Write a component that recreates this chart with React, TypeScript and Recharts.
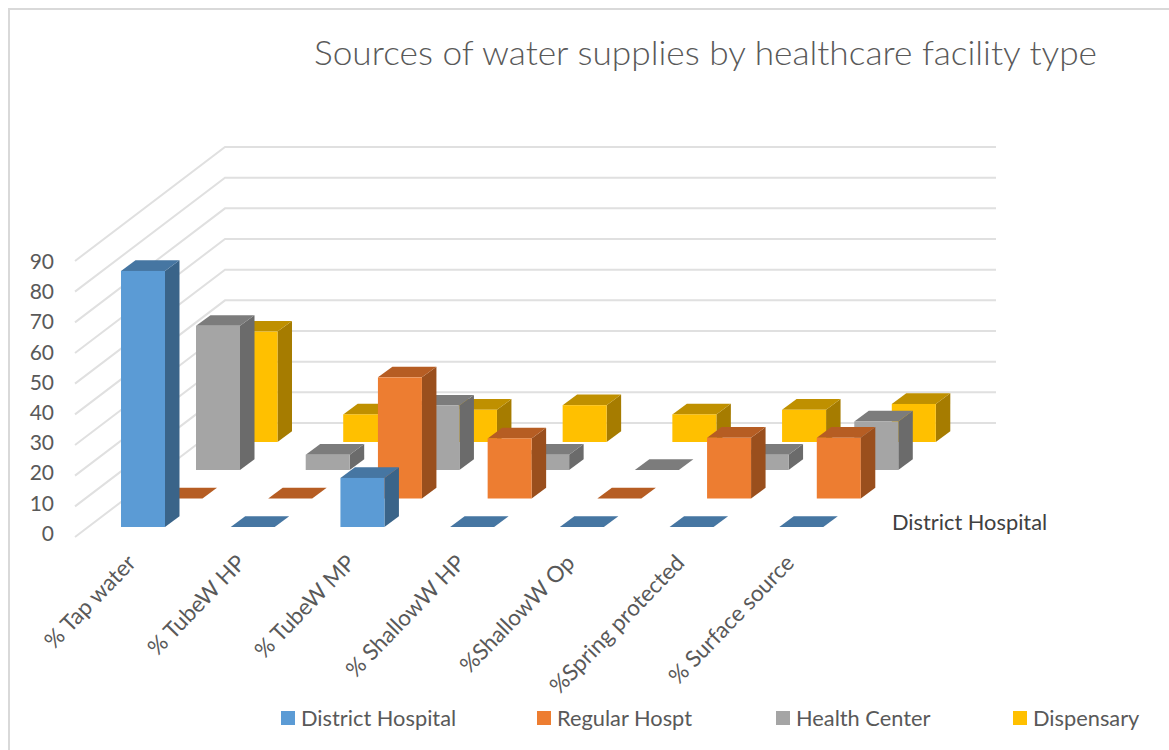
import React from "react";
import { BarChart, Bar, XAxis, YAxis, CartesianGrid, Legend } from "recharts";

const categories = ["% Tap water", "% TubeW HP", "% TubeW MP", "% ShallowW HP", "%ShallowW Op", "%Spring protected", "% Surface source"];
const districtHospital = [83.5, 0, 16, 0, 0, 0, 0];
const regularHospt = [0, 0, 39.5, 19.6, 0, 19.8, 19.8];
const healthCenter = [47, 5, 21, 5, 0, 5, 15.8];
const dispensary = [36, 9, 10.5, 12, 9, 10.5, 12.4];
const yTicks = [0, 10, 20, 30, 40, 50, 60, 70, 80, 90];

const data = categories.map((name, i) => ({
  name,
  district: districtHospital[i],
  regular: regularHospt[i],
  health: healthCenter[i],
  dispensary: dispensary[i],
}));

const W = 1169;
const H = 750;
const FONT = "Lato, sans-serif";
const TEXT = "#595959";
const SIDE_DX = 14.5;
const SIDE_DY = -10.7;
const WALL_DX = 150;
const WALL_DY = -114;

const legendItems = [
  { name: "District Hospital", color: "#5B9BD5", x: 281 },
  { name: "Regular Hospt", color: "#ED7D31", x: 537 },
  { name: "Health Center", color: "#A5A5A5", x: 776 },
  { name: "Dispensary", color: "#FFC000", x: 1013 },
];

const faces = {
  district: { front: "#5B9BD5", top: "#4676A2", side: "#3A6489", dx: 13, dy: -10 },
  regular: { front: "#ED7D31", top: "#B65D23", side: "#9A4F1D", dx: 50.5, dy: -38.5 },
  health: { front: "#A5A5A5", top: "#7C7C7C", side: "#6B6B6B", dx: 88, dy: -67 },
  dispensary: { front: "#FFC000", top: "#BF9000", side: "#A67C00", dx: 125.5, dy: -95 },
};

function box(key: keyof typeof faces) {
  const f = faces[key];
  return (p: any) => {
    const x = p.x + f.dx;
    const w = p.width;
    const h = Math.abs(p.height || 0);
    const top = p.y + f.dy;
    const bottom = top + h;
    return (
      <g>
        <path d={`M${x + w} ${top}L${x + w + SIDE_DX} ${top + SIDE_DY}L${x + w + SIDE_DX} ${bottom + SIDE_DY}L${x + w} ${bottom}Z`} fill={f.side} />
        <path d={`M${x} ${top}L${x + SIDE_DX} ${top + SIDE_DY}L${x + w + SIDE_DX} ${top + SIDE_DY}L${x + w} ${top}Z`} fill={f.top} />
        {h > 0 && <rect x={x} y={top} width={w} height={h} fill={f.front} />}
      </g>
    );
  };
}

const gridLine = (p: any) => (
  <g key={p.key ?? p.index}>
    <path
      d={`M${p.x1} ${p.y1}L${p.x1 + WALL_DX} ${p.y1 + WALL_DY}L${p.x1 + WALL_DX + (p.x2 - p.x1) + 3} ${p.y1 + WALL_DY}`}
      fill="none"
      stroke="#E0E0E0"
      strokeWidth={2}
    />
  </g>
);

const yTick = (p: any) => (
  <text x={54} y={262 + (p.y - 261) * 0.985} dy={7} textAnchor="end" fontFamily={FONT} fontSize={21} fill={TEXT}>
    {p.payload.value}
  </text>
);

const xTick = (p: any) => {
  const tx = p.x + 3;
  const ty = 560;
  return (
    <text
      x={tx}
      y={ty}
      textAnchor="end"
      transform={`rotate(-46 ${tx} ${ty})`}
      dy={6}
      fontFamily={FONT}
      fontSize={22.5}
      fill={TEXT}
    >
      {p.payload.value}
    </text>
  );
};

const legendContent = () => (
  <div style={{ position: "relative", width: W, height: 40 }}>
    {legendItems.map((it) => (
      <React.Fragment key={it.name}>
        <div style={{ position: "absolute", left: it.x, top: 1, width: 14, height: 14, background: it.color }} />
        <div
          style={{
            position: "absolute",
            left: it.x + 20,
            top: -5,
            lineHeight: "26px",
            fontFamily: FONT,
            fontSize: 21.8,
            color: TEXT,
            whiteSpace: "nowrap",
          }}
        >
          {it.name}
        </div>
      </React.Fragment>
    ))}
  </div>
);

export default function App() {
  return (
    <div style={{ position: "absolute", left: 0, top: 0, width: W, height: H, background: "#fff" }}>
      <BarChart
        width={W}
        height={H}
        data={data}
        barSize={44}
        barGap={-44}
        margin={{ top: 261, right: 326, bottom: 0, left: 0 }}
      >
        <rect x={9} y={9} width={W} height={H} fill="none" stroke="#D9D9D9" strokeWidth={2} />
        <text x={314} y={65} fontFamily={FONT} fontWeight={300} fontSize={34} fill={TEXT} textLength={783} lengthAdjust="spacingAndGlyphs">
          Sources of water supplies by healthcare facility type
        </text>
        <text x={892} y={530} fontFamily={FONT} fontSize={21.8} fill="#404040">
          {legendItems[0].name}
        </text>
        <CartesianGrid horizontal={gridLine} vertical={false} />
        <XAxis dataKey="name" axisLine={false} tickLine={false} height={173} interval={0} tick={xTick} />
        <YAxis width={75} domain={[0, 90]} ticks={yTicks} axisLine={false} tickLine={false} tick={yTick} />
        <Bar dataKey="dispensary" isAnimationActive={false} shape={box("dispensary")} />
        <Bar dataKey="health" isAnimationActive={false} shape={box("health")} />
        <Bar dataKey="regular" isAnimationActive={false} shape={box("regular")} />
        <Bar dataKey="district" isAnimationActive={false} shape={box("district")} />
        <Legend verticalAlign="bottom" height={40} content={legendContent} wrapperStyle={{ left: 0, bottom: 0, width: W, height: 40 }} />
      </BarChart>
    </div>
  );
}
